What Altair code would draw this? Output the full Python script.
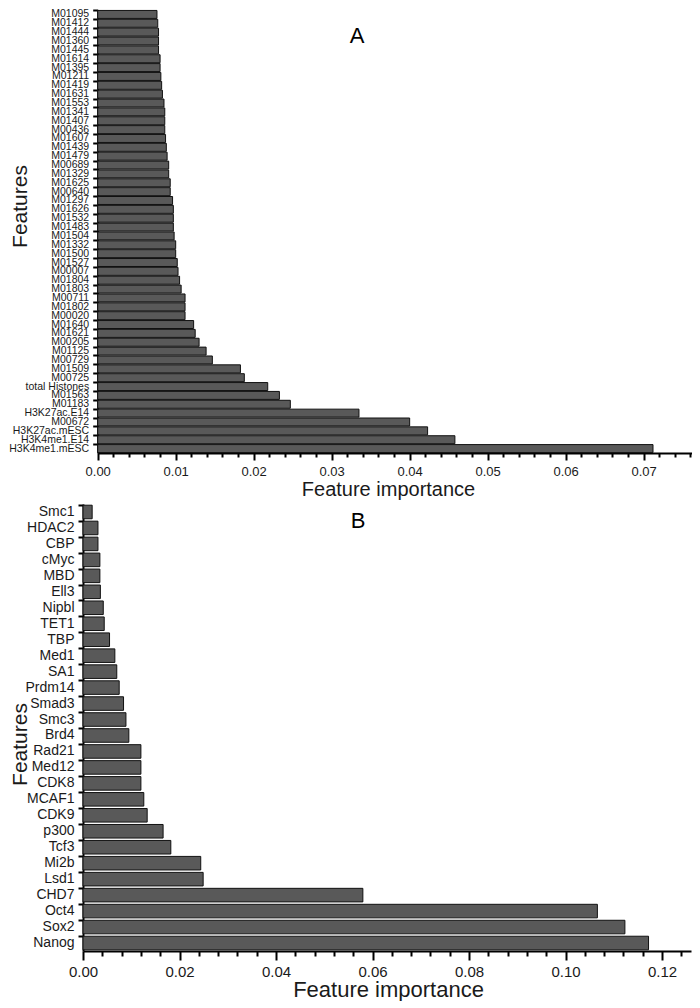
import altair as alt
import pandas as pd

# ---------------- Panel A data ----------------
features_a = ["M01095", "M01412", "M01444", "M01360", "M01445", "M01614", "M01395",
              "M01211", "M01419", "M01631", "M01553", "M01341", "M01407", "M00436",
              "M01607", "M01439", "M01479", "M00689", "M01329", "M01625", "M00640",
              "M01297", "M01626", "M01532", "M01483", "M01504", "M01332", "M01500",
              "M01527", "M00007", "M01804", "M01803", "M00711", "M01802", "M00020",
              "M01640", "M01621", "M00205", "M01125", "M00729", "M01509", "M00725",
              "total Histones", "M01563", "M01183", "H3K27ac.E14", "M00672",
              "H3K27ac.mESC", "H3K4me1.E14", "H3K4me1.mESC"]
importance_a = [0.0076, 0.0077, 0.0078, 0.0078, 0.0078, 0.0080, 0.0080, 0.0081, 0.0082,
                0.0083, 0.0085, 0.0086, 0.0086, 0.0086, 0.0087, 0.0088, 0.0089, 0.0091,
                0.0091, 0.0093, 0.0093, 0.0096, 0.0097, 0.0097, 0.0097, 0.0098, 0.0100,
                0.0100, 0.0102, 0.0103, 0.0105, 0.0107, 0.0112, 0.0112, 0.0112, 0.0123,
                0.0125, 0.0130, 0.0139, 0.0147, 0.0183, 0.0188, 0.0218, 0.0233, 0.0247,
                0.0335, 0.0400, 0.0423, 0.0458, 0.0712]
ticks_a = [round(i * 0.002, 3) for i in range(39)]
domain_a = [0, 0.0762]

# ---------------- Panel B data ----------------
features_b = ["Smc1", "HDAC2", "CBP", "cMyc", "MBD", "Ell3", "Nipbl", "TET1", "TBP",
              "Med1", "SA1", "Prdm14", "Smad3", "Smc3", "Brd4", "Rad21", "Med12",
              "CDK8", "MCAF1", "CDK9", "p300", "Tcf3", "Mi2b", "Lsd1", "CHD7", "Oct4",
              "Sox2", "Nanog"]
importance_b = [0.0019, 0.0031, 0.0031, 0.0035, 0.0035, 0.0036, 0.0042, 0.0044, 0.0055,
                0.0066, 0.0070, 0.0075, 0.0084, 0.0089, 0.0095, 0.0120, 0.0120, 0.0120,
                0.0126, 0.0133, 0.0166, 0.0182, 0.0244, 0.0249, 0.0580, 0.1066, 0.1123,
                0.1172]
ticks_b = [round(i * 0.004, 3) for i in range(32)]
domain_b = [0, 0.126]

FONT = "Liberation Sans"
FILL = "#595959"
INK = "#1a1a1a"

# layout (pixels inside the single shared view)
W, H = 609, 941
A_X, A_Y = [14.7, 609], [0, 443]
B_X, B_Y = [0, 608], [494, 941]

df_a = pd.DataFrame({"feature": features_a, "importance": importance_a})
df_b = pd.DataFrame({"feature": features_b, "importance": importance_b})


def bars(df, feats, ticks, domain, xrange, yrange, major_test, major_len, minor_len,
         xlab_size, xlab_pad, xtitle_size, xoffset, xtitle_y,
         ylab_size, ytitle_x, ytitle_y, yoffset, pad_inner):
    x_axis = alt.Axis(
        orient="bottom", offset=xoffset, values=ticks, title="Feature importance",
        grid=False,
        labelExpr=f"({major_test}) ? format(datum.value, '.2f') : ''",
        tickSize={"condition": {"test": major_test, "value": major_len}, "value": minor_len},
        tickWidth=2, tickColor="black", domainWidth=2, domainColor="black",
        labelFont=FONT, labelFontSize=xlab_size, labelColor=INK, labelPadding=xlab_pad,
        labelOverlap=False, labelFlush=False,
        titleFont=FONT, titleFontSize=xtitle_size, titleFontWeight="normal", titleColor=INK,
        titleX=305, titleY=xtitle_y, titleBaseline="alphabetic", titleAlign="center",
    )
    y_axis = alt.Axis(
        orient="left", offset=yoffset, title="Features", bandPosition=0, tickSize=5,
        tickWidth=2, tickColor="black", domainWidth=2, domainColor="black",
        labelFont=FONT, labelFontSize=ylab_size, labelColor=INK, labelPadding=4,
        labelOverlap=False,
        titleFont=FONT, titleFontSize=21, titleFontWeight="normal", titleColor=INK,
        titleAngle=270, titleX=ytitle_x, titleY=ytitle_y, titleBaseline="alphabetic",
        titleAlign="center",
    )
    return alt.Chart(df).mark_bar(fill=FILL, stroke="#111111", strokeWidth=1).encode(
        x=alt.X("importance:Q",
                scale=alt.Scale(domain=domain, range=xrange, nice=False, zero=True),
                axis=x_axis),
        y=alt.Y("feature:N", sort=feats,
                scale=alt.Scale(range=yrange, paddingInner=pad_inner,
                                paddingOuter=pad_inner / 2),
                axis=y_axis),
    )


test_a = "abs(datum.value * 100 - round(datum.value * 100)) < 0.000001"
test_b = "abs(datum.value * 50 - round(datum.value * 50)) < 0.000001"

bars_a = bars(df_a, features_a, ticks_a, domain_a, A_X, A_Y, test_a, 7, 4,
              13, 5.5, 20, A_Y[1] - H, 42.5,
              10.5, -71.7, 196, -A_X[0], 0.1)
bars_b = bars(df_b, features_b, ticks_b, domain_b, B_X, B_Y, test_b, 9, 5,
              15, 4, 22, 0, 45.5,
              14, -57, 734, 0, 0.15)

text_a = alt.Chart(pd.DataFrame({"t": ["A"]})).mark_text(
    font=FONT, fontSize=22, color="black", baseline="middle", align="center"
).encode(text="t:N", x=alt.value(274), y=alt.value(26))
text_b = alt.Chart(pd.DataFrame({"t": ["B"]})).mark_text(
    font=FONT, fontSize=22, color="black", baseline="middle", align="center"
).encode(text="t:N", x=alt.value(275), y=alt.value(511))

chart = alt.layer(bars_a, bars_b, text_a, text_b).resolve_scale(
    x="independent", y="independent"
).properties(
    width=W, height=H, background="white",
    padding={"left": 0, "top": 0, "right": 0, "bottom": 0}
).configure_view(stroke=None)

chart.save("out.html", embed_options={"renderer": "svg", "actions": False})
